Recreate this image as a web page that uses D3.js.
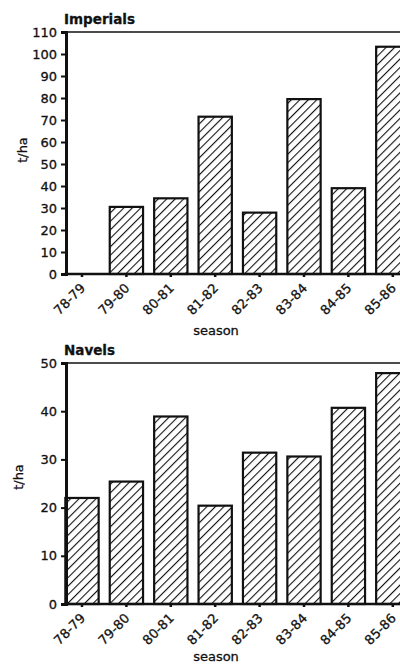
<!DOCTYPE html>
<html>
<head>
<meta charset="utf-8">
<script src="https://cdn.jsdelivr.net/npm/d3@7"></script>
<style>
  html, body { margin: 0; padding: 0; background: #fff; }
  svg { display: block; }
  text { font-family: "DejaVu Sans", sans-serif; fill: #111; stroke: #111; stroke-width: 0.3px; }
</style>
</head>
<body>
<script>
const seasons = ["78-79", "79-80", "80-81", "81-82", "82-83", "83-84", "84-85", "85-86"];
const imperials = [0, 30.5, 34.4, 71.5, 27.9, 79.5, 39, 103.3];
const navels = [22, 25.4, 38.9, 20.4, 31.4, 30.6, 40.7, 47.9];
const imperialTicks = [0, 10, 20, 30, 40, 50, 60, 70, 80, 90, 100, 110];
const navelTicks = [0, 10, 20, 30, 40, 50];

const W = 400, H = 666;
const svg = d3.select("body").append("svg").attr("width", W).attr("height", H);

const defs = svg.append("defs");
const pat = defs.append("pattern")
  .attr("id", "hatch")
  .attr("patternUnits", "userSpaceOnUse")
  .attr("width", 6).attr("height", 6)
  .attr("patternTransform", "rotate(45)");
pat.append("rect").attr("width", 6).attr("height", 6).attr("fill", "#fff");
pat.append("line").attr("x1", 0).attr("y1", 0).attr("x2", 0).attr("y2", 6)
  .attr("stroke", "#111").attr("stroke-width", 2.2);

const x = d3.scaleBand().domain(seasons).range([59.8, 415]).paddingInner(0.25).paddingOuter(0.125);

function panel(cfg) {
  const g = svg.append("g");
  const y = d3.scaleLinear().domain([0, cfg.max]).range([cfg.y0, cfg.y1]);

  // top frame line
  g.append("line").attr("x1", 66).attr("x2", W).attr("y1", y(cfg.max)).attr("y2", y(cfg.max))
    .attr("stroke", "#111").attr("stroke-width", 1.3);

  // bars
  g.selectAll("rect.bar").data(cfg.values.map((v, i) => ({ s: seasons[i], v })).filter(d => d.v > 0))
    .join("rect").attr("class", "bar")
    .attr("x", d => x(d.s))
    .attr("width", x.bandwidth())
    .attr("y", d => y(d.v))
    .attr("height", d => y(0) - y(d.v))
    .attr("fill", "url(#hatch)")
    .attr("stroke", "#111").attr("stroke-width", 2.2);

  // y axis
  const ya = g.append("g").attr("transform", "translate(66,0)")
    .call(d3.axisLeft(y).tickValues(cfg.ticks).tickSize(5).tickPadding(4).tickFormat(d3.format("d")));
  ya.select(".domain").attr("stroke", "#111").attr("stroke-width", 3);
  ya.selectAll(".tick line").attr("stroke", "#111").attr("stroke-width", 2);
  ya.selectAll(".tick text").style("font-size", "13px").style("font-family", "DejaVu Sans, sans-serif").attr("fill", "#111");

  // x axis
  const xa = g.append("g").attr("transform", `translate(0,${cfg.y0})`)
    .call(d3.axisBottom(x).tickSize(3).tickSizeOuter(0));
  xa.select(".domain").attr("stroke", "#111").attr("stroke-width", 2.5).attr("d", `M64.5,0H${W}`);
  xa.selectAll(".tick line").attr("stroke", "#111").attr("stroke-width", 2.5);
  xa.selectAll(".tick text")
    .style("font-size", "13px").style("font-family", "DejaVu Sans, sans-serif").attr("fill", "#111")
    .attr("text-anchor", "end")
    .attr("dy", null).attr("y", null)
    .attr("transform", "translate(4,15) rotate(-45)");

  // title
  g.append("text").attr("x", 64).attr("y", cfg.titleY).text(cfg.title)
    .style("font-weight", "bold").style("font-size", "13.5px");

  // y label
  g.append("text").attr("transform", `translate(${cfg.ylabX},${cfg.ylabY}) rotate(-90)`)
    .attr("text-anchor", "middle").attr("dy", "0.35em").text("t/ha").style("font-size", "13px");

  // x label
  g.append("text").attr("x", 216).attr("y", cfg.xlabY).attr("text-anchor", "middle")
    .text("season").style("font-size", "13px");
}

panel({ title: "Imperials", values: imperials, max: 110, ticks: imperialTicks,
        y0: 274, y1: 32, titleY: 24, ylabX: 22, ylabY: 150, xlabY: 335 });
panel({ title: "Navels", values: navels, max: 50, ticks: navelTicks,
        y0: 604, y1: 363, titleY: 355, ylabX: 18, ylabY: 477, xlabY: 661 });
</script>
</body>
</html>
